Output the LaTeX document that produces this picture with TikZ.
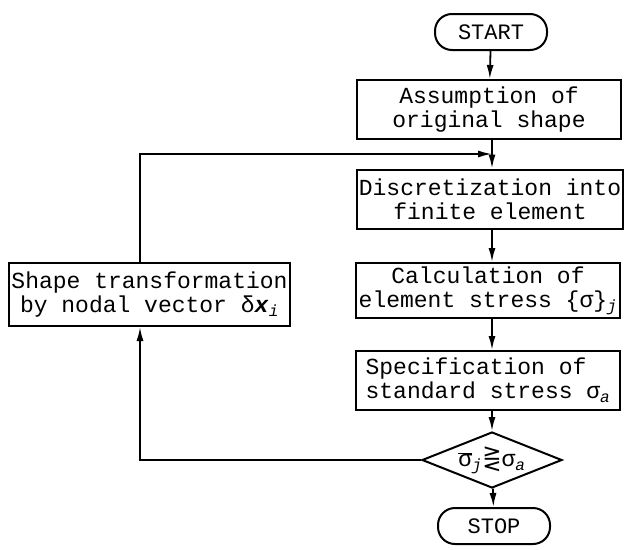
\documentclass[tikz,border=0pt]{standalone}
\usepackage{fontspec}
\setmainfont{Liberation Mono}
\newfontfamily\symfont{DejaVu Sans}
\usetikzlibrary{positioning,arrows.meta,shapes.geometric}

\begin{document}
\begin{tikzpicture}[x=1pt, y=-1pt,
  procbox/.style={draw, line width=2pt, minimum width=264pt,
               minimum height=59pt, inner xsep=2pt, inner ysep=2pt,
               align=center, font=\fontsize{23}{24}\selectfont},
  termnode/.style={draw, line width=2pt, rounded corners=17pt,
               minimum width=112pt, minimum height=36pt,
               font=\fontsize{22}{24}\selectfont},
  decision/.style={draw, diamond, line width=2pt, aspect=2.5,
               minimum width=140pt, minimum height=56pt, inner sep=0pt,
               font=\fontsize{23}{24}\selectfont},
  edge/.style={line width=1.8pt, -{Latex[length=14pt,width=7pt]}},
]
\useasboundingbox (0,0) rectangle (626,549);

\node[termnode] (start) at (491, 32) {START};
\node[procbox] (assume) at (489, 109.5) {Assumption of\\original shape};
\node[procbox] (discret) at (490, 199) {Discretization into\\finite element};
\node[procbox, minimum height=55pt] (calc) at (488, 290.5)
  {Calculation of\\element stress \{σ\}\textsubscript{\itshape j}};
\node[procbox, align=left] (spec) at (488, 380.5)
  {Specification of\\standard stress σ\textsubscript{\itshape a}};
\node[decision] (check) at (492, 460)
  {$\overline{\mbox{σ}}$\textsubscript{\itshape j}{\symfont ⋛}σ\textsubscript{\itshape a}};
\node[termnode] (stop) at (494, 526) {STOP};

% feedback branch on the left
\node[procbox, minimum width=275pt, minimum height=63pt] (reshape) at (149.5, 294.5)
  {Shape transformation\\by nodal vector δ\textbf{\itshape x}\textsubscript{\itshape i}};
\coordinate (fbx) at (140, 0);
\coordinate (join) at (492, 154);

\draw[edge] (start) -- (assume);
\draw[edge] (assume.south -| join) -- (discret.north -| join);
\draw[edge] (discret.south -| join) -- (calc.north -| join);
\draw[edge] (calc.south -| join) -- (spec.north -| join);
\draw[edge] (spec.south -| join) -- (check);
\draw[edge] (check) -- (stop);
\draw[edge] (check.west) -| (fbx |- reshape.south);
\draw[edge] (fbx |- reshape.north) |- (join);

\end{tikzpicture}
\end{document}
